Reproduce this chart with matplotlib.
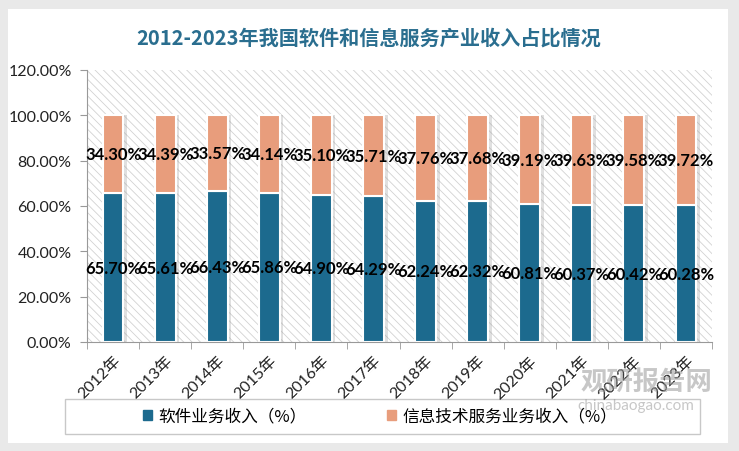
import matplotlib.pyplot as plt
from matplotlib.patches import Rectangle
import numpy as np

plt.rcParams['font.family'] = ['Lato', 'Noto Sans CJK SC', 'DejaVu Sans']
plt.rcParams['hatch.linewidth'] = 0.6

years = ['2012年', '2013年', '2014年', '2015年', '2016年', '2017年',
         '2018年', '2019年', '2020年', '2021年', '2022年', '2023年']
software_share = [65.70, 65.61, 66.43, 65.86, 64.90, 64.29,
                  62.24, 62.32, 60.81, 60.37, 60.42, 60.28]
service_share = [34.30, 34.39, 33.57, 34.14, 35.10, 35.71,
                 37.76, 37.68, 39.19, 39.63, 39.58, 39.72]
y_ticks = [0, 20, 40, 60, 80, 100, 120]

blue = '#1c6a8e'
salmon = '#e89d7c'

fig = plt.figure(figsize=(7.39, 4.52), dpi=100, facecolor='#e9e9e9')
# white card with grey border around it
fig.patches.append(Rectangle((8 / 739, 1 - 444 / 452), 720 / 739, 434 / 452,
                             transform=fig.transFigure, facecolor='white',
                             edgecolor='none', zorder=-10))

ax = fig.add_axes([87 / 739, 1 - 343 / 452, 625 / 739, 272 / 452])
ax.set_zorder(2)
ax.set_facecolor('white')
ax.add_patch(Rectangle((0, 0), 1, 1, transform=ax.transAxes, facecolor='white',
                       edgecolor='#d2d2d2', linewidth=0, hatch='\\\\\\\\', zorder=0))

x = np.arange(len(years))
w = 0.40
# soft shadow to the right of each bar
ax.bar(x + 0.07, np.add(software_share, service_share), w, color='#9a9a9a',
       alpha=0.3, zorder=1, linewidth=0)
ax.bar(x, software_share, w, color=blue, edgecolor='white', linewidth=1.5, zorder=2)
ax.bar(x, service_share, w, bottom=software_share, color=salmon,
       edgecolor='white', linewidth=1.5, zorder=2)

for i in range(len(years)):
    ax.text(x[i], software_share[i] / 2, f'{software_share[i]:.2f}%', ha='center',
            va='center', fontsize=12, fontweight='bold', color='black', zorder=3)
    ax.text(x[i], software_share[i] + service_share[i] / 2, f'{service_share[i]:.2f}%',
            ha='center', va='center', fontsize=12, fontweight='bold',
            color='black', zorder=3)

ax.set_xlim(-0.5, len(years) - 0.5)
ax.set_ylim(0, 120)
ax.set_yticks(y_ticks)
ax.set_yticklabels([f'{v:.2f}%' for v in y_ticks], fontsize=11.5, color='#222222')
ax.set_xticks(x)
ax.set_xticklabels(years, rotation=45, ha='right', rotation_mode='anchor',
                   fontsize=11.5, color='#222222')
ax.set_xticks(np.arange(len(years) + 1) - 0.5, minor=True)
ax.tick_params(axis='x', which='major', length=0, pad=8)
ax.tick_params(axis='x', which='minor', length=5, color='#999999')
ax.tick_params(axis='y', length=5, color='#999999', pad=6)
for s in ['top', 'right']:
    ax.spines[s].set_visible(False)
for s in ['left', 'bottom']:
    ax.spines[s].set_color('#999999')

fig.text(369 / 739, 1 - 38 / 452, '2012-2023年我国软件和信息服务产业收入占比情况',
         ha='center', va='center', fontsize=14.5, fontweight='bold', color='#2a6e8f',
         family=['Noto Sans CJK SC', 'DejaVu Sans'])

# legend frame
fig.patches.append(Rectangle((65 / 739, 1 - 435 / 452), 635 / 739, 35 / 452,
                             transform=fig.transFigure, facecolor='white',
                             edgecolor='#c8c8c8', linewidth=1, zorder=-5))
handles = [Rectangle((0, 0), 1, 1, color=blue), Rectangle((0, 0), 1, 1, color=salmon)]
fig.legend(handles, ['软件业务收入（%）', '信息技术服务业务收入（%）'],
           loc='center', bbox_to_anchor=(380 / 739, 1 - 417 / 452), ncol=2,
           frameon=False, handlelength=0.55, handleheight=0.55, handletextpad=0.4,
           columnspacing=4.8, prop={'family': ['Noto Sans CJK SC', 'DejaVu Sans'],
                                    'size': 12})

# watermark
fig.text(646 / 739, 1 - 383 / 452, '观研报告网', ha='center', va='center',
         fontsize=19, fontweight='bold', color='#9a9a9a', alpha=0.55,
         family=['Noto Sans CJK SC', 'DejaVu Sans'], zorder=5)
fig.text(636 / 739, 1 - 406 / 452, 'chinabaogao.com', ha='center', va='center',
         fontsize=11, color='#9a9a9a', alpha=0.55, zorder=5)

fig.savefig('out.png', dpi=100, facecolor=fig.get_facecolor())
